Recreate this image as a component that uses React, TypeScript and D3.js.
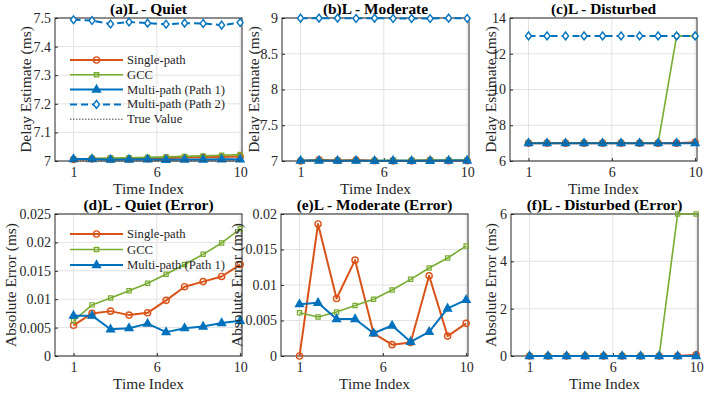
import { useEffect, useRef } from 'react';
import * as d3 from 'd3';

// x axis
const timeIndex = [1, 2, 3, 4, 5, 6, 7, 8, 9, 10];
const xTickValues = [1, 5.5, 10];
const xTickLabels = ['1', '6', '10'];
const trueDelay = 7;

// (a) L - Quiet : delay estimates (ms)
const quietSingle = [7.0054, 7.0075, 7.0079, 7.0072, 7.0076, 7.0098, 7.0122, 7.0131, 7.014, 7.0161];
const quietGcc = [7.0062, 7.009, 7.0102, 7.0115, 7.0128, 7.0144, 7.0161, 7.0179, 7.0199, 7.0224];
const quietMulti1 = [7.0071, 7.0071, 7.0047, 7.0049, 7.0057, 7.0042, 7.0049, 7.0052, 7.0058, 7.0062];
const quietMulti2 = [7.494, 7.491, 7.479, 7.486, 7.482, 7.478, 7.482, 7.481, 7.475, 7.484];

// (b) L - Moderate
const modSingle = [7.0, 7.0186, 7.0081, 7.0135, 7.0032, 7.0016, 7.0019, 7.0113, 7.0028, 7.0046];
const modGcc = [7.0061, 7.0055, 7.0062, 7.0071, 7.008, 7.0093, 7.0108, 7.0124, 7.0138, 7.0155];
const modMulti1 = [7.0073, 7.0075, 7.0052, 7.0052, 7.0032, 7.0043, 7.002, 7.0034, 7.0067, 7.0079];
const modMulti2 = [8.998, 8.998, 8.998, 8.994, 8.998, 8.994, 8.994, 8.993, 8.998, 8.994];

// (c) L - Disturbed
const distSingle = [7.0, 7.0, 7.0, 7.0, 7.0, 7.0, 7.0, 7.0, 7.0, 7.05];
const distGcc = [7.0, 7.0, 7.0, 7.0, 7.0, 7.0, 7.0, 7.0, 13.0, 13.0];
const distMulti1 = [7.0, 7.0, 7.0, 7.0, 7.0, 7.0, 7.0, 7.0, 7.0, 7.0];
const distMulti2 = [13.0, 13.0, 13.0, 13.0, 13.0, 13.0, 13.0, 13.0, 13.0, 13.0];

// (d) quiet error (ms)
const quietErrSingle = [0.0054, 0.0075, 0.0079, 0.0072, 0.0076, 0.0098, 0.0122, 0.0131, 0.014, 0.0161];
const quietErrGcc = [0.0062, 0.009, 0.0102, 0.0115, 0.0128, 0.0144, 0.0161, 0.0179, 0.0199, 0.0224];
const quietErrMulti1 = [0.0071, 0.0071, 0.0047, 0.0049, 0.0057, 0.0042, 0.0049, 0.0052, 0.0058, 0.0062];

// (e) moderate error
const modErrSingle = [0.0, 0.0186, 0.0081, 0.0135, 0.0032, 0.0016, 0.0019, 0.0113, 0.0028, 0.0046];
const modErrGcc = [0.0061, 0.0055, 0.0062, 0.0071, 0.008, 0.0093, 0.0108, 0.0124, 0.0138, 0.0155];
const modErrMulti1 = [0.0073, 0.0075, 0.0052, 0.0052, 0.0032, 0.0043, 0.002, 0.0034, 0.0067, 0.0079];

// (f) disturbed error
const distErrSingle = [0.0, 0.0, 0.0, 0.0, 0.0, 0.0, 0.0, 0.0, 0.0, 0.05];
const distErrGcc = [0.0, 0.0, 0.0, 0.0, 0.0, 0.0, 0.0, 0.0, 6.0, 6.0];
const distErrMulti1 = [0.0, 0.0, 0.0, 0.0, 0.0, 0.0, 0.0, 0.0, 0.0, 0.0];

const seriesNames = ['Single-path', 'GCC', 'Multi-path (Path 1)', 'Multi-path (Path 2)', 'True Value'];

const FONT = "'Liberation Serif', Tinos, 'Times New Roman', 'DejaVu Serif', serif";
const INK = '#262626';

type Marker = 'circle' | 'square' | 'triangle' | 'diamond' | 'none';
type Style = { color: string; width: number; dash: string | null; marker: Marker; fill: string };

const styles: Style[] = [
  { color: '#D95319', width: 2, dash: null, marker: 'circle', fill: 'none' },
  { color: '#77AC30', width: 1.6, dash: null, marker: 'square', fill: 'none' },
  { color: '#0072BD', width: 2, dash: null, marker: 'triangle', fill: '#0072BD' },
  { color: '#0072BD', width: 2, dash: '7,4', marker: 'diamond', fill: '#fff' },
  { color: '#444', width: 1, dash: '1.5,1.5', marker: 'none', fill: 'none' },
];

function markerPath(m: Marker): string {
  if (m === 'circle') return d3.symbol(d3.symbolCircle, 30)() as string;
  if (m === 'square') return d3.symbol(d3.symbolSquare, 18)() as string;
  if (m === 'triangle') return 'M0,-4.4L3.9,2.5L-3.9,2.5Z';
  if (m === 'diamond') return 'M0,-3.9L3,0L0,3.9L-3,0Z';
  return '';
}

type Panel = {
  title: string;
  left: number;
  top: number;
  bottom: number;
  yDomain: [number, number];
  yTicks: number[];
  yLabel: string;
  yLabelX: number;
  series: (number[] | null)[];
  legend?: { top: number; step: number };
};

const panels: Panel[] = [
  {
    title: '(a)L - Quiet', left: 55, top: 18, bottom: 161, yDomain: [7, 7.5],
    yTicks: [7, 7.1, 7.2, 7.3, 7.4, 7.5], yLabel: 'Delay Estimate (ms)', yLabelX: 25,
    series: [quietSingle, quietGcc, quietMulti1, quietMulti2, timeIndex.map(() => trueDelay)],
    legend: { top: 60, step: 14.8 },
  },
  {
    title: '(b)L - Moderate', left: 282, top: 18, bottom: 161, yDomain: [7, 9],
    yTicks: [7, 7.5, 8, 8.5, 9], yLabel: 'Delay Estimate (ms)', yLabelX: 253,
    series: [modSingle, modGcc, modMulti1, modMulti2, timeIndex.map(() => trueDelay)],
  },
  {
    title: '(c)L - Disturbed', left: 510, top: 18, bottom: 161, yDomain: [6, 14],
    yTicks: [6, 8, 10, 12, 14], yLabel: 'Delay Estimate (ms)', yLabelX: 490,
    series: [distSingle, distGcc, distMulti1, distMulti2, timeIndex.map(() => trueDelay)],
  },
  {
    title: '(d)L - Quiet (Error)', left: 55, top: 214, bottom: 356, yDomain: [0, 0.025],
    yTicks: [0, 0.005, 0.01, 0.015, 0.02, 0.025], yLabel: 'Absolute Error (ms)', yLabelX: 10,
    series: [quietErrSingle, quietErrGcc, quietErrMulti1, null, null],
    legend: { top: 234, step: 15.5 },
  },
  {
    title: '(e)L - Moderate (Error)', left: 281, top: 214, bottom: 356, yDomain: [0, 0.02],
    yTicks: [0, 0.005, 0.01, 0.015, 0.02], yLabel: 'Absolute Error (ms)', yLabelX: 236,
    series: [modErrSingle, modErrGcc, modErrMulti1, null, null],
  },
  {
    title: '(f)L - Disturbed (Error)', left: 511, top: 214, bottom: 356, yDomain: [0, 6],
    yTicks: [0, 2, 4, 6], yLabel: 'Absolute Error (ms)', yLabelX: 490,
    series: [distErrSingle, distErrGcc, distErrMulti1, null, null],
  },
];

const PANEL_W = 187;

function drawPanel(svg: d3.Selection<SVGSVGElement, unknown, null, undefined>, p: Panel) {
  const x = d3.scaleLinear().domain([0, 10.1]).range([p.left, p.left + PANEL_W]);
  const y = d3.scaleLinear().domain(p.yDomain).range([p.bottom, p.top]);
  const g = svg.append('g');

  // grid
  g.append('g').selectAll('line').data(xTickValues).join('line')
    .attr('x1', d => x(d)).attr('x2', d => x(d))
    .attr('y1', p.top).attr('y2', p.bottom)
    .attr('stroke', '#e2e2e2').attr('stroke-width', 1);
  g.append('g').selectAll('line').data(p.yTicks).join('line')
    .attr('x1', p.left).attr('x2', p.left + PANEL_W)
    .attr('y1', d => y(d)).attr('y2', d => y(d))
    .attr('stroke', '#e2e2e2').attr('stroke-width', 1);

  // axes
  const fmt = d3.format('~g');
  const xAxis = g.append('g')
    .attr('transform', `translate(0,${p.bottom})`)
    .call(d3.axisBottom(x).tickValues(xTickValues)
      .tickFormat((_, i) => xTickLabels[i]).tickSizeInner(-3).tickSizeOuter(0).tickPadding(6));
  const yAxis = g.append('g')
    .attr('transform', `translate(${p.left},0)`)
    .call(d3.axisLeft(y).tickValues(p.yTicks)
      .tickFormat(d => fmt(d as number)).tickSizeInner(-3).tickSizeOuter(0).tickPadding(4));
  [xAxis, yAxis].forEach(a => {
    a.attr('font-family', null).attr('font-size', null);
    a.select('.domain').remove();
    a.selectAll('line').attr('stroke', INK);
    a.selectAll('text').style('font-family', FONT).style('font-size', '14px').attr('fill', INK);
  });

  // box
  g.append('rect')
    .attr('x', p.left).attr('y', p.top)
    .attr('width', PANEL_W).attr('height', p.bottom - p.top)
    .attr('fill', 'none').attr('stroke', INK).attr('stroke-width', 1);

  // labels
  g.append('text')
    .attr('x', p.left + PANEL_W / 2).attr('y', p.top - 4)
    .attr('text-anchor', 'middle')
    .style('font-family', FONT).style('font-size', '15.4px').style('font-weight', 'bold')
    .attr('fill', '#000')
    .text(p.title);
  g.append('text')
    .attr('x', p.left + PANEL_W / 2).attr('y', p.bottom + 32.5)
    .attr('text-anchor', 'middle')
    .style('font-family', FONT).style('font-size', '15.4px').attr('fill', INK)
    .text('Time Index');
  g.append('text')
    .attr('transform', `translate(${p.yLabelX},${(p.top + p.bottom) / 2}) rotate(-90)`)
    .attr('text-anchor', 'middle').attr('dominant-baseline', 'central')
    .style('font-family', FONT).style('font-size', '15.4px').attr('fill', INK)
    .text(p.yLabel);

  // series
  p.series.forEach((vals, si) => {
    if (!vals) return;
    const st = styles[si];
    const line = d3.line<number>().x((_, i) => x(timeIndex[i])).y(d => y(d));
    g.append('path')
      .attr('d', line(vals))
      .attr('fill', 'none').attr('stroke', st.color).attr('stroke-width', st.width)
      .attr('stroke-dasharray', st.dash)
      .attr('stroke-linejoin', 'round');
    if (st.marker !== 'none') {
      g.append('g').selectAll('path').data(vals).join('path')
        .attr('transform', (d, i) => `translate(${x(timeIndex[i])},${y(d)})`)
        .attr('d', markerPath(st.marker))
        .attr('fill', st.fill).attr('stroke', st.color)
        .attr('stroke-width', st.marker === 'square' ? 1.2 : 1.4);
    }
  });

  // legend
  if (p.legend) {
    const lg = g.append('g');
    const entries = p.series.map((s, i) => (s ? i : -1)).filter(i => i >= 0);
    entries.forEach((si, k) => {
      const st = styles[si];
      const yy = p.legend!.top + k * p.legend!.step;
      lg.append('line')
        .attr('x1', p.left + 15).attr('x2', p.left + 68)
        .attr('y1', yy).attr('y2', yy)
        .attr('stroke', st.color).attr('stroke-width', st.width)
        .attr('stroke-dasharray', st.dash);
      if (st.marker !== 'none') {
        lg.append('path')
          .attr('transform', `translate(${p.left + 41.5},${yy})`)
          .attr('d', markerPath(st.marker))
          .attr('fill', st.fill).attr('stroke', st.color).attr('stroke-width', 1.4);
      }
      lg.append('text')
        .attr('x', p.left + 72).attr('y', yy)
        .attr('dominant-baseline', 'central')
        .style('font-family', FONT).style('font-size', '12.7px').attr('fill', INK)
        .text(seriesNames[si]);
    });
  }
}

export default function App() {
  const svgRef = useRef<SVGSVGElement>(null);

  useEffect(() => {
    if (!svgRef.current) return;
    const svg = d3.select(svgRef.current);
    svg.selectAll('*').remove();
    panels.forEach(p => drawPanel(svg, p));
  }, []);

  return (
    <svg
      ref={svgRef}
      width={707}
      height={393}
      style={{ position: 'absolute', left: 0, top: 0, background: '#fff' }}
    />
  );
}
